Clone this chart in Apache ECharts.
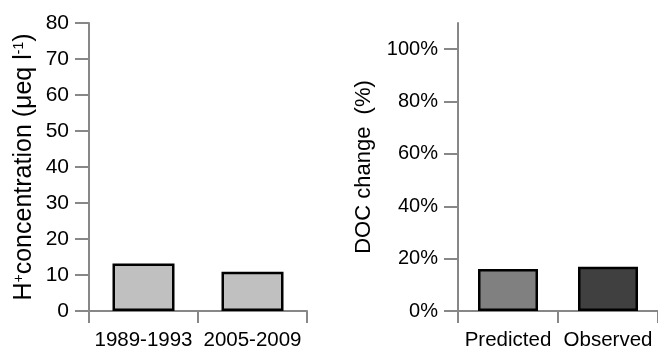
<!DOCTYPE html>
<html><head><meta charset="utf-8">
<script src="https://cdn.jsdelivr.net/npm/echarts@6/dist/echarts.min.js"></script>
<style>html,body{margin:0;padding:0;background:#fff}#c{width:658px;height:351px}</style>
</head><body><div id="c"></div>
<script>
const periods = ['1989-1993', '2005-2009'];
const hConc = [13.2, 10.9];
const docCats = ['Predicted', 'Observed'];
const docChange = [16.0, 16.9];
const docColors = ['#808080', '#404040'];
const leftTicks = [0, 10, 20, 30, 40, 50, 60, 70, 80];
const rightTicks = [0, 20, 40, 60, 80, 100];

const FONT = 'Liberation Sans';
const axisGray = '#878787';
const chart = echarts.init(document.getElementById('c'), null, {renderer: 'canvas'});
chart.setOption({
  animation: false,
  backgroundColor: '#ffffff',
  grid: [
    {left: 89, top: 23, width: 218, height: 288},
    {left: 458, top: 23, width: 202, height: 288}
  ],
  xAxis: [
    {gridIndex: 0, type: 'category', data: periods,
     axisLine: {show: true, lineStyle: {color: axisGray, width: 2}},
     axisTick: {show: true, length: 12, interval: 0, lineStyle: {color: axisGray, width: 2}},
     axisLabel: {color: '#000', fontFamily: FONT, fontSize: 20.5, margin: 19, interval: 0}},
    {gridIndex: 1, type: 'category', data: docCats,
     axisLine: {show: true, lineStyle: {color: axisGray, width: 2}},
     axisTick: {show: true, length: 12, interval: 0, lineStyle: {color: axisGray, width: 2}},
     axisLabel: {color: '#000', fontFamily: FONT, fontSize: 20.5, margin: 19, interval: 0}}
  ],
  yAxis: [
    {gridIndex: 0, type: 'value', min: leftTicks[0], max: leftTicks[leftTicks.length - 1], interval: 10,
     splitLine: {show: false},
     axisLine: {show: true, lineStyle: {color: axisGray, width: 2}},
     axisTick: {show: true, length: 14, lineStyle: {color: axisGray, width: 2}},
     axisLabel: {color: '#000', fontFamily: FONT, fontSize: 21, margin: 20},
     name: 'H{sup|+}concentration (μeq l{sup|-1})',
     nameLocation: 'middle', nameGap: 52, nameRotate: 90,
     nameTextStyle: {color: '#000', fontFamily: FONT, fontSize: 25,
       rich: {sup: {fontSize: 14, verticalAlign: 'top', color: '#000', fontFamily: FONT}}}},
    {gridIndex: 1, type: 'value', min: 0, max: 110,
     splitLine: {show: false},
     axisLine: {show: true, lineStyle: {color: axisGray, width: 2}},
     axisTick: {show: true, length: 14, customValues: rightTicks, lineStyle: {color: axisGray, width: 2}},
     axisLabel: {color: '#000', fontFamily: FONT, fontSize: 20, margin: 20, customValues: rightTicks,
       formatter: v => v + '%'},
     name: 'DOC change  (%)',
     nameLocation: 'middle', nameGap: 83, nameRotate: 90,
     nameTextStyle: {color: '#000', fontFamily: FONT, fontSize: 22}}
  ],
  series: [
    {type: 'bar', xAxisIndex: 0, yAxisIndex: 0, data: hConc, barWidth: 62,
     itemStyle: {color: '#c0c0c0', borderColor: '#000', borderWidth: 2.5}},
    {type: 'bar', xAxisIndex: 1, yAxisIndex: 1, barWidth: 60,
     data: docChange.map((v, i) => ({value: v, itemStyle: {color: docColors[i]}})),
     itemStyle: {borderColor: '#000', borderWidth: 2.5}}
  ]
});
</script></body></html>
